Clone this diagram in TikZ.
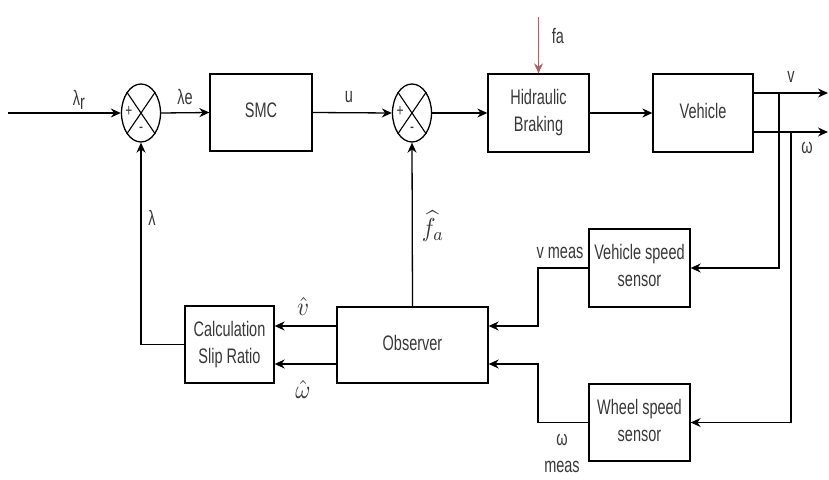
\documentclass[tikz,border=0pt]{standalone}
\usepackage{fontspec}
\setmainfont{Liberation Sans}
\usepackage{graphicx}
\usetikzlibrary{arrows.meta,shapes.geometric}
\definecolor{facol}{RGB}{176,96,100}
\newcommand{\tx}[1]{\scalebox{1}[1.45]{\begin{tabular}{@{}c@{}}#1\end{tabular}}}
\newcommand{\mx}[1]{\scalebox{2.3}[2.6]{\normalsize$#1$}}
\begin{document}
\begin{tikzpicture}[x=1pt,y=-1pt, line width=1.3pt, >={Stealth[length=10pt,width=9pt]},
  blk/.style={draw, rectangle, inner sep=0pt, font=\fontsize{14.5}{18.5}\selectfont, text=black!78},
  sumj/.style={draw, ellipse, minimum width=39pt, minimum height=58pt, inner sep=0pt},
  lbl/.style={inner sep=0pt, font=\fontsize{14.5}{18.5}\selectfont, text=black!78},
  mlbl/.style={inner sep=0pt, text=black!78},
  sgn/.style={inner sep=0pt, font=\fontsize{12}{14}\selectfont, text=black!78}]
\useasboundingbox (0,0) rectangle (829,479);
% blocks
\node[blk, minimum width=102pt, minimum height=77pt] (smc) at (261,112.5) {\tx{SMC}};
\node[blk, minimum width=101pt, minimum height=78pt] (hb) at (538.5,113) {\tx{Hidraulic\\Braking}};
\node[blk, minimum width=100pt, minimum height=78pt] (veh) at (703,113) {\tx{Vehicle}};
\node[blk, minimum width=101pt, minimum height=78pt] (vss) at (639.5,268) {\tx{Vehicle speed\\sensor}};
\node[blk, minimum width=101pt, minimum height=77pt] (wss) at (639.5,422.5) {\tx{Wheel speed\\sensor}};
\node[blk, minimum width=151pt, minimum height=76pt] (obs) at (412.5,345) {\tx{Observer}};
\node[blk, minimum width=89pt, minimum height=77pt] (calc) at (229.5,344.5) {\tx{Calculation\\Slip Ratio}};
% summing junctions
\node[sumj] (sum1) at (141,113) {};
\node[sumj] (sum2) at (412,113) {};
\foreach \s in {sum1,sum2}{
  \draw[line width=1.1pt] (\s.north west) -- (\s.south east);
  \draw[line width=1.1pt] (\s.north east) -- (\s.south west);
}
\node[sgn] (p1) at (129,112) {\tx{+}};
\node[sgn] (m1s) at (141,128) {\tx{-}};
\node[sgn] (p2) at (400,112) {\tx{+}};
\node[sgn] (m2s) at (412,128) {\tx{-}};
% coordinates
\coordinate (in) at (8,113);
\coordinate (fatop) at (538.5,17);
\coordinate (vout) at (828,93);
\coordinate (wout) at (828,132);
\coordinate (b1) at (779,93);
\coordinate (b2) at (791,132);
\coordinate (mv) at (538,326);
\coordinate (mw) at (538,364);
% forward path
\draw[->] (in) -- (sum1.west);
\draw[->] (sum1.east) -- (smc.west);
\draw[->] (smc.east) -- (sum2.west);
\draw[->] (sum2.east) -- (hb.west);
\draw[->] (hb.east) -- (veh.west);
\draw[->, draw=facol, line width=1.1pt] (fatop) -- (hb.north);
\draw[->] (vout -| veh.east) -- (vout);
\draw[->] (wout -| veh.east) -- (wout);
% sensors
\draw[->] (b1) |- (vss.east);
\draw[->] (b2) |- (wss.east);
\draw[->] (vss.west) -| (mv) -- (mv -| obs.east);
\draw[->] (wss.west) -| (mw) -- (mw -| obs.east);
% observer outputs
\draw[->] (obs.west |- mv) -- (calc.east |- mv);
\draw[->] (obs.west |- mw) -- (calc.east |- mw);
\draw[->] (calc.west) -| (sum1.south);
\draw[->] (obs.north) -- (sum2.south);
% labels
\node[lbl] (lr) at (79,100) {\tx{λ\raisebox{-3pt}{r}}};
\node[lbl] (le) at (185,99) {\tx{λe}};
\node[lbl] (lu) at (349,97) {\tx{u}};
\node[lbl] (lfa) at (558,38) {\tx{fa}};
\node[lbl] (lv) at (791,77) {\tx{v}};
\node[lbl] (lw) at (807,148) {\tx{ω}};
\node[lbl] (lvm) at (560,253) {\tx{v meas}};
\node[lbl] (lwm) at (562,454) {\tx{ω\\meas}};
\node[mlbl] (lvh) at (303,306) {\mx{\hat{v}}};
\node[mlbl] (lwh) at (303,389) {\mx{\hat{\omega}}};
\node[lbl] (llam) at (152,220) {\tx{λ}};
\node[mlbl] (lfh) at (433,226) {\mx{\widehat{f_a}}};
\end{tikzpicture}
\end{document}
